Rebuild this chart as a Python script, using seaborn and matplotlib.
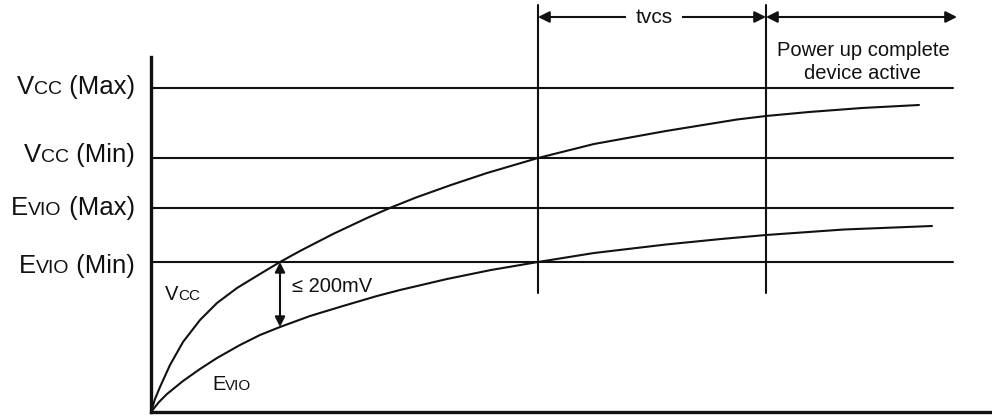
import matplotlib
matplotlib.use("Agg")
import matplotlib.pyplot as plt
import seaborn as sns
import pandas as pd

# time axis in arbitrary units, level axis in arbitrary units
level_values = [324, 254, 204, 150]
level_labels = [
    [("V", 18.5), ("CC", 14), (" (Max)", 18.5)],
    [("V", 18.5), ("CC", 14), (" (Min)", 18.5)],
    [("E", 18.5), ("VIO", 14), (" (Max)", 18.5)],
    [("E", 18.5), ("VIO", 14), (" (Min)", 18.5)],
]
level_end = 802

vcc_t = [0, 4, 9, 19, 32, 49, 66, 86, 109, 129, 149, 182, 216, 240, 265, 300,
         336, 387, 443, 515, 586, 615, 658, 711, 768]
vcc_v = [0, 13, 25, 47, 70, 92, 109, 124, 138, 150, 161, 178, 194, 204.5, 214.5,
         227, 239, 254, 268, 281, 292.5, 296, 300, 304, 307]
evio_t = [0, 8, 16, 32, 49, 66, 89, 109, 129, 159, 192, 226, 249, 296, 340,
          387, 443, 515, 570, 615, 693, 781]
evio_v = [0, 10, 18, 31, 43, 54, 67, 77, 85, 96, 106, 116, 122, 133, 142,
          150, 159, 167.5, 173, 177, 182.5, 186]

marker_t = [387, 615]
tvcs_end = 806

curves = pd.concat([
    pd.DataFrame({"t": vcc_t, "v": vcc_v, "sig": "Vcc"}),
    pd.DataFrame({"t": evio_t, "v": evio_v, "sig": "Evio"}),
])

sns.set_theme(style="white")
plt.rcParams["font.family"] = ["Liberation Sans", "DejaVu Sans"]

fig = plt.figure(figsize=(9.92, 4.2), dpi=100)
ax = fig.add_axes([151 / 992, 8 / 420, 841 / 992, 412 / 420])

ink = "#111111"
sns.lineplot(data=curves, x="t", y="v", units="sig", estimator=None,
             color=ink, linewidth=1.5, sort=False, ax=ax, legend=False)

for lv in level_values:
    ax.plot([0, level_end], [lv, lv], color=ink, linewidth=1.5)

for mt in marker_t:
    ax.plot([mt, mt], [119, 407], color=ink, linewidth=1.5)

ax.set_xlim(0, 841)
ax.set_ylim(0, 412)
ax.set_xticks([])
ax.set_yticks([])
ax.set_xlabel("")
ax.set_ylabel("")
sns.despine(ax=ax)
for s in ["left", "bottom"]:
    ax.spines[s].set_color(ink)
    ax.spines[s].set_linewidth(2.4)
ax.spines["left"].set_bounds(0, 355)

# level labels, right aligned left of the axis
baseline_offset = [6, 4, 7, 11]
for lv, pieces, off in zip(level_values, level_labels, baseline_offset):
    base = lv - off
    prev = ax.text(-16, base, pieces[-1][0], fontsize=pieces[-1][1],
                   ha="right", va="baseline", color=ink, clip_on=False)
    for txt, size in reversed(pieces[:-1]):
        prev = ax.annotate(txt, xy=(0, base), xycoords=(prev, "data"),
                           ha="right", va="baseline", fontsize=size,
                           color=ink, annotation_clip=False)

# curve names
for x0, y0, big, small in [(14, 112, "V", "CC"), (61, 22, "E", "VIO")]:
    first = ax.text(x0, y0, big, fontsize=14.5, ha="left", va="baseline", color=ink)
    ax.annotate(small, xy=(1, y0), xycoords=(first, "data"), ha="left",
                va="baseline", fontsize=11, color=ink)

# <= 200mV arrow
ax.annotate("", xy=(129, 150), xytext=(129, 85),
            arrowprops=dict(arrowstyle="<|-|>", color=ink, lw=1.5,
                            mutation_scale=15, shrinkA=0, shrinkB=0))
ax.text(141, 120, "≤ 200mV", fontsize=14.5, ha="left", va="baseline", color=ink)

# timing arrows
ax.annotate("", xy=(marker_t[0], 395), xytext=(marker_t[1], 395),
            arrowprops=dict(arrowstyle="<|-|>", color=ink, lw=1.5,
                            mutation_scale=17, shrinkA=0, shrinkB=0),
            annotation_clip=False)
ax.annotate("", xy=(marker_t[1], 395), xytext=(tvcs_end, 395),
            arrowprops=dict(arrowstyle="<|-|>", color=ink, lw=1.5,
                            mutation_scale=17, shrinkA=0, shrinkB=0),
            annotation_clip=False)
ax.text(503, 395, "tvcs", fontsize=15, ha="center", va="center", color=ink,
        bbox=dict(boxstyle="square,pad=0.45", fc="white", ec="none"))
ax.text(712, 350, "Power up complete\ndevice active", fontsize=14.5,
        ha="center", va="center", multialignment="center",
        linespacing=1.25, color=ink)

fig.savefig("out.png", dpi=100)
